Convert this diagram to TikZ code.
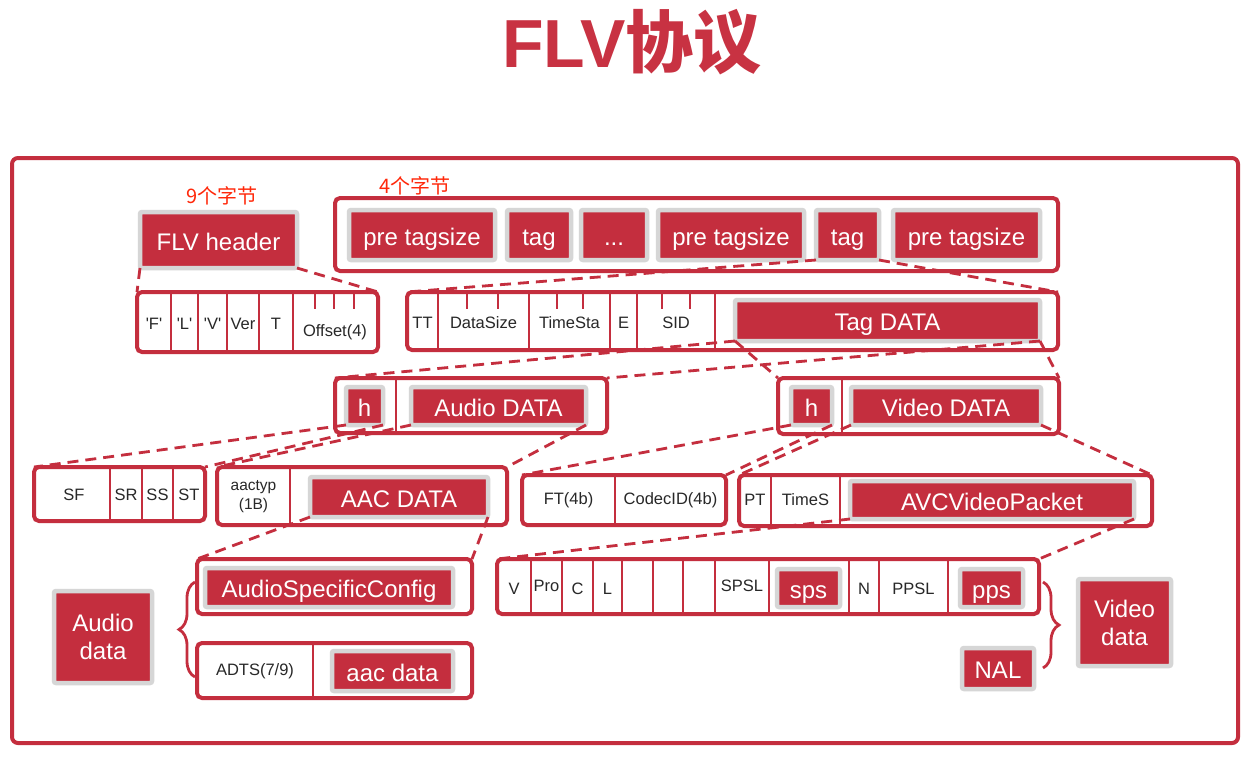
\documentclass[tikz,border=0pt]{standalone}
\usepackage{fontspec}
\setmainfont{Liberation Sans}
\newfontfamily\cjk{Noto Sans CJK SC}
\usetikzlibrary{decorations.pathreplacing}
\definecolor{myred}{RGB}{196,46,62}
\definecolor{titlered}{RGB}{200,50,66}
\definecolor{boxgray}{RGB}{214,214,214}
\definecolor{txtgray}{RGB}{40,40,40}
\definecolor{labred}{RGB}{255,40,10}
\tikzset{
  redbase/.style={fill=myred, draw=boxgray, line width=4.5pt, rounded corners=2pt, text=white,
    inner sep=0pt, outer sep=0pt, align=center, font=\fontsize{24}{28}\selectfont},
  redbox/.style={redbase, text height=20pt, text depth=0pt},
  frm/.style={draw=myred, line width=4pt, rounded corners=5pt, fill=white, inner sep=0pt, outer sep=0pt},
  cell/.style={font=\fontsize{16.5}{19}\selectfont, text=txtgray, inner sep=0pt, align=center},
  divider/.style={draw=myred, line width=2pt},
  conn/.style={draw=myred, line width=2.8pt, dash pattern=on 11pt off 7pt},
  bracestyle/.style={draw=myred, line width=2.8pt, decorate, decoration={brace, amplitude=16pt}},
  bytelabel/.style={text=labred, font=\cjk\fontsize{20}{22}\selectfont, inner sep=0pt},
}
\newcommand\boxat[7]{%
  \pgfmathsetmacro\bxX{(#3+#5)/2}\pgfmathsetmacro\bxY{(#4+#6)/2}%
  \pgfmathsetmacro\bxW{#5-#3}\pgfmathsetmacro\bxH{#6-#4}%
  \node[#1, minimum width=\bxW pt, minimum height=\bxH pt] (#2) at (\bxX,\bxY) {#7};}
\newcommand\rbx[6]{\boxat{redbox}{#1}{#2}{#3}{#4}{#5}{#6}}
\newcommand\rbtwo[6]{\boxat{redbase}{#1}{#2}{#3}{#4}{#5}{#6}}
\newcommand\fbx[5]{\boxat{frm}{#1}{#2}{#3}{#4}{#5}{}}
\begin{document}
\begin{tikzpicture}[x=1pt,y=-1pt]
\useasboundingbox (0,0) rectangle (1253,756);
% title
\node[text=titlered, inner sep=0pt, anchor=base] (title) at (632,67)
  {\fontsize{68}{70}\selectfont\bfseries FLV\cjk 协议};
% outer frame
\node[frm, minimum width=1226pt, minimum height=585pt, rounded corners=6pt] (outer) at (625,450.5) {};
% byte labels
\node[bytelabel] (nine) at (222,196) {9个字节};
\node[bytelabel] (four) at (415,186) {4个字节};

% ---------- FLV header ----------
\rbx{fh}{140}{212}{297}{268}{FLV header}
\fbx{hdr}{137}{292}{378}{352}
\foreach \x in {171,198,227,259,293} \draw[divider] (\x,292) -- (\x,352);
\foreach \x in {315,334,354} \draw[divider] (\x,292) -- (\x,309);
\node[cell] (cF) at (154,324) {\textquotesingle F\textquotesingle};
\node[cell] (cL) at (184.5,324) {\textquotesingle L\textquotesingle};
\node[cell] (cV) at (212.5,324) {\textquotesingle V\textquotesingle};
\node[cell] (cVer) at (243,324) {Ver};
\node[cell] (cT) at (276,324) {T};
\node[cell] (cOff) at (335,332) {Offset(4)};

% ---------- tags ----------
\fbx{tags}{335}{198}{1058}{271}
\rbx{pt1}{349}{210}{495}{260}{pre tagsize}
\rbx{tg1}{507}{210}{571}{260}{tag}
\rbx{dots}{581}{210}{647}{260}{...}
\rbx{pt2}{658}{210}{804}{260}{pre tagsize}
\rbx{tg2}{816}{210}{879}{260}{tag}
\rbx{pt3}{893}{210}{1040}{260}{pre tagsize}

% ---------- tag row ----------
\fbx{tagrow}{407}{292}{1058}{350}
\foreach \x in {438,529,610,637,715} \draw[divider] (\x,292) -- (\x,350);
\foreach \x in {467,498,557,583,662,690} \draw[divider] (\x,292) -- (\x,309);
\node[cell] (cTT) at (422.5,323) {TT};
\node[cell] (cDS) at (483.5,323) {DataSize};
\node[cell] (cTS) at (569.5,323) {TimeSta};
\node[cell] (cE) at (623.5,323) {E};
\node[cell] (cSID) at (676,323) {SID};
\rbx{tagdata}{735}{300}{1040}{341}{Tag DATA}

% ---------- audio / video ----------
\fbx{audio}{335}{378}{607}{433}
\draw[divider] (396,378) -- (396,433);
\rbx{ah}{346}{387}{383}{425}{h}
\rbx{adata}{411}{387}{586}{425}{Audio DATA}

\fbx{video}{778}{378}{1059}{434}
\draw[divider] (842,378) -- (842,434);
\rbx{vh}{791}{387}{832}{425}{h}
\rbx{vdata}{851}{387}{1041}{425}{Video DATA}

% ---------- audio lower ----------
\fbx{sfbox}{34}{467}{205}{521}
\foreach \x in {110,142,173} \draw[divider] (\x,467) -- (\x,521);
\node[cell] (cSF) at (74,495) {SF};
\node[cell] (cSR) at (126,495) {SR};
\node[cell] (cSS) at (157.5,495) {SS};
\node[cell] (cST) at (189,495) {ST};

\fbx{aacbox}{217}{467}{507}{525}
\draw[divider] (290,467) -- (290,525);
\node[cell, font=\fontsize{15.5}{19}\selectfont] (caac) at (253.5,497) {aactyp\\(1B)};
\rbx{aacdata}{310}{477}{488}{517}{AAC DATA}

% ---------- video lower ----------
\fbx{ftbox}{522}{475}{726}{525}
\draw[divider] (615,475) -- (615,525);
\node[cell] (cFT) at (568.5,500) {FT(4b)};
\node[cell] (cCID) at (670.5,500) {CodecID(4b)};

\fbx{ptbox}{739}{475}{1152}{526}
\foreach \x in {771,840} \draw[divider] (\x,475) -- (\x,526);
\node[cell] (cPT) at (755,500) {PT};
\node[cell] (cTimeS) at (805.5,500) {TimeS};
\rbx{avc}{850}{481}{1134}{519}{AVCVideoPacket}

% ---------- audio bottom ----------
\fbx{asc}{197}{559}{472}{614}
\rbx{ascred}{205}{568}{453}{607}{AudioSpecificConfig}
\fbx{adts}{197}{643}{472}{698}
\draw[divider] (313,643) -- (313,698);
\node[cell] (cADTS) at (255,671) {ADTS(7/9)};
\rbx{aacd}{332}{651}{453}{691}{aac data}
\rbtwo{audiod}{54}{591}{152}{683}{Audio\\data}
\draw[bracestyle] (195,677) -- (195,582);

% ---------- video bottom ----------
\fbx{spsbox}{497}{559}{1039}{614}
\foreach \x in {531,562,593,622,653,683,715,769,849,879,948} \draw[divider] (\x,559) -- (\x,614);
\node[cell] (cV2) at (514,589) {V};
\node[cell] (cPro) at (546.5,586) {Pro};
\node[cell] (cC) at (577.5,589) {C};
\node[cell] (cLL) at (607.5,589) {L};
\node[cell] (cSPSL) at (742,586) {SPSL};
\node[cell] (cN) at (864,589) {N};
\node[cell] (cPPSL) at (913.5,589) {PPSL};
\rbx{sps}{777}{569}{840}{607}{sps}
\rbx{pps}{960}{569}{1023}{607}{pps}
\rbtwo{videod}{1078}{579}{1171}{666}{Video\\data}
\rbx{nal}{962}{648}{1034}{689}{NAL}
\draw[bracestyle] (1043,582) -- (1043,668);

% ---------- connectors ----------
\draw[conn] (fh.south west) -- (hdr.north west);
\draw[conn] (fh.south east) -- (hdr.north east);
\draw[conn] (tg2.south west) -- (tagrow.north west);
\draw[conn] (tg2.south east) -- (tagrow.north east);
\draw[conn] (tagdata.south west) -- (audio.north west);
\draw[conn] (tagdata.south east) -- (audio.north east);
\draw[conn] (tagdata.south west) -- (video.north west);
\draw[conn] (tagdata.south east) -- (video.north east);
\draw[conn] (ah.south west) -- (sfbox.north west);
\draw[conn] (ah.south east) -- (sfbox.north east);
\draw[conn] (adata.south west) -- (aacbox.north west);
\draw[conn] (adata.south east) -- (aacbox.north east);
\draw[conn] (vh.south west) -- (ftbox.north west);
\draw[conn] (vh.south east) -- (ftbox.north east);
\draw[conn] (vdata.south west) -- (ptbox.north west);
\draw[conn] (vdata.south east) -- (ptbox.north east);
\draw[conn] (aacdata.south west) -- (asc.north west);
\draw[conn] (aacdata.south east) -- (asc.north east);
\draw[conn] (avc.south west) -- (spsbox.north west);
\draw[conn] (avc.south east) -- (spsbox.north east);
\end{tikzpicture}
\end{document}
